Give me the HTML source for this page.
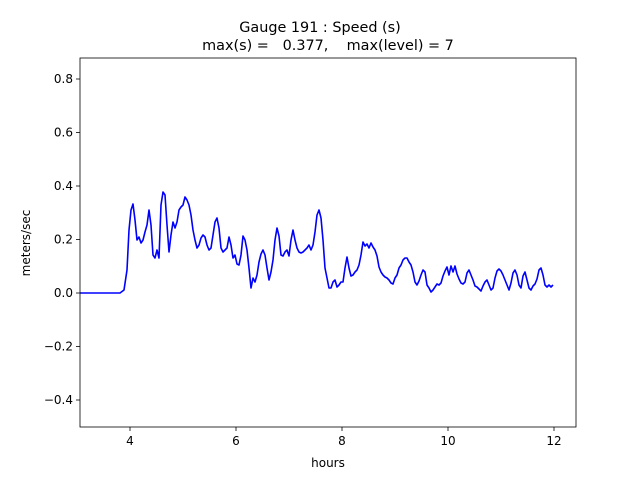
<!DOCTYPE html>
<html><head><meta charset="utf-8"><style>
body{margin:0;background:#fff}
svg{display:block;font-family:"DejaVu Sans","Liberation Sans",sans-serif}
</style></head><body>
<svg width="640" height="480" viewBox="0 0 640 480" xmlns="http://www.w3.org/2000/svg">
<rect width="640" height="480" fill="#fff"/>
<text x="320" y="32" font-size="14.4" text-anchor="middle">Gauge 191 : Speed (s)</text>
<text x="328" y="50" font-size="14.4" text-anchor="middle" xml:space="preserve">max(s) =   0.377,    max(level) = 7</text>
<g stroke="#000" stroke-width="0.8">
<line x1="130" y1="427" x2="130" y2="431"/><line x1="236" y1="427" x2="236" y2="431"/><line x1="342" y1="427" x2="342" y2="431"/><line x1="448" y1="427" x2="448" y2="431"/><line x1="554" y1="427" x2="554" y2="431"/>
<line x1="76" y1="79" x2="80" y2="79"/><line x1="76" y1="132.5" x2="80" y2="132.5"/><line x1="76" y1="186" x2="80" y2="186"/><line x1="76" y1="239.5" x2="80" y2="239.5"/><line x1="76" y1="293" x2="80" y2="293"/><line x1="76" y1="346.5" x2="80" y2="346.5"/><line x1="76" y1="400" x2="80" y2="400"/>
</g>
<g font-size="12" text-anchor="middle">
<text x="130" y="445">4</text><text x="236" y="445">6</text><text x="342" y="445">8</text><text x="448" y="445">10</text><text x="554" y="445">12</text>
<text x="328" y="467">hours</text>
</g>
<g font-size="12" text-anchor="end">
<text x="73" y="83">0.8</text><text x="73" y="136.5">0.6</text><text x="73" y="190">0.4</text><text x="73" y="243.5">0.2</text><text x="73" y="297">0.0</text><text x="73" y="350.5">−0.2</text><text x="73" y="404">−0.4</text>
</g>
<text transform="translate(30,243) rotate(-90)" font-size="12" text-anchor="middle">meters/sec</text>
<polyline fill="none" stroke="#0000ff" stroke-width="1.6" stroke-linejoin="round" points="80,293 120,293 124,290 127,270 129,230 131,210 133,204 135,220 137,240 139,237 141,243 143,240 145,232 147,225 149,210 151,225 153,255 155,258 157,250 159,258 161,205 163,192 165,195 167,225 169,252 171,235 173,222 175,228 177,222 179,210 181,207 183,205 185,197 187,200 189,205 191,215 193,230 195,240 197,248 199,245 201,238 203,235 205,237 207,245 209,250 211,248 213,235 215,222 217,218 219,228 221,248 223,252 225,250 227,248 229,237 231,245 233,258 235,255 237,264 239,265 241,255 243,236 245,240 247,250 249,268 251,288 253,278 255,282 257,275 259,262 261,254 263,250 265,255 267,268 269,280 271,272 273,260 275,240 277,228 279,236 281,255 283,256 285,252 287,250 289,256 291,240 293,230 295,240 297,248 299,252 301,253 303,252 305,250 307,248 309,245 311,250 313,245 315,232 317,215 319,210 321,218 323,240 325,268 327,278 329,288 331,288 333,282 335,280 337,287 339,285 341,282 343,282 345,268 347,257 349,268 351,276 353,275 355,272 357,270 359,265 361,255 363,242 365,246 367,244 369,248 371,243 373,247 375,250 377,256 379,267 381,272 383,275 385,277 387,278 389,280 391,283 393,284 395,278 397,275 399,268 401,265 403,260 405,258 407,258 409,262 411,265 413,272 415,282 417,285 419,281 421,275 423,270 425,272 427,285 429,288 431,292 433,290 435,287 437,284 439,285 441,283 443,276 445,271 447,267 449,275 451,266 453,272 455,266 457,274 459,279 461,283 463,284 465,282 467,273 469,270 471,275 473,280 475,286 477,287 479,289 481,291 483,286 485,282 487,280 489,285 491,290 493,288 495,278 497,271 499,269 501,271 503,275 505,280 507,285 509,290 511,283 513,273 515,270 517,275 519,285 521,288 523,276 525,272 527,280 529,288 531,290 533,286 535,284 537,279 539,270 541,268 543,275 545,285 547,287 549,285 551,287 553,285"/>
<rect x="80" y="58" width="496" height="369" fill="none" stroke="#000" stroke-width="0.8"/>
</svg>
</body></html>
